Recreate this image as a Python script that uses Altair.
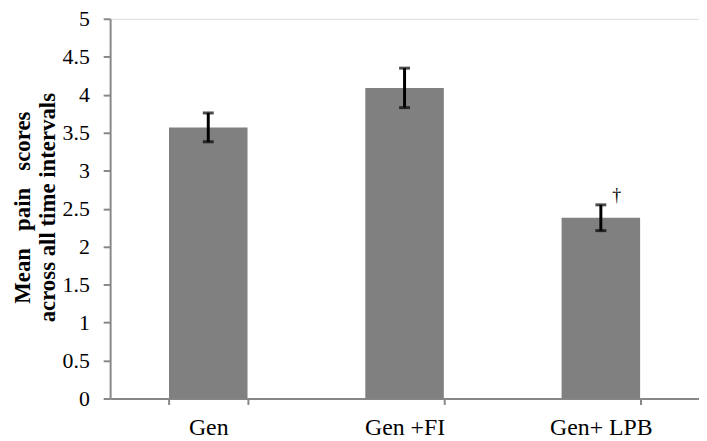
import altair as alt
import pandas as pd

categories = ["Gen", "Gen +FI", "Gen+ LPB"]
means = [3.57, 4.09, 2.38]
errors = [0.19, 0.26, 0.17]
markers = ["", "", "†"]
y_ticks = [0, 0.5, 1, 1.5, 2, 2.5, 3, 3.5, 4, 4.5, 5]
y_title = ["Mean\u00a0\u00a0\u00a0pain\u00a0\u00a0\u00a0scores", "across all time intervals"]

df = pd.DataFrame({
    "group": categories,
    "mean": means,
    "err": errors,
    "marker": markers,
})
df["lo"] = df["mean"] - df["err"]
df["hi"] = df["mean"] + df["err"]

FONT = "Liberation Serif"
AXIS_GREY = "#878787"
W, H = 594, 383

xscale = alt.Scale(paddingInner=0.6, paddingOuter=0.3)
yscale = alt.Scale(domain=[0, 5], nice=False)

xaxis = alt.Axis(
    labelAngle=0,
    labelFont=FONT,
    labelFontSize=24,
    labelColor="black",
    labelBaseline="alphabetic",
    labelPadding=30,
    tickBand="extent",
    tickSize=6,
    tickColor=AXIS_GREY,
    tickWidth=2,
    domainColor=AXIS_GREY,
    domainWidth=2,
)

yaxis = alt.Axis(
    values=y_ticks,
    format=".1~f",
    grid=False,
    labelOverlap=False,
    labelFont=FONT,
    labelFontSize=22,
    labelColor="black",
    labelPadding=14,
    tickSize=7,
    tickColor=AXIS_GREY,
    tickWidth=2,
    domainColor=AXIS_GREY,
    domainWidth=2,
    titleFont=FONT,
    titleFontSize=23,
    titleFontWeight="bold",
    titleColor="black",
    titleLineHeight=25,
    titleBaseline="alphabetic",
    titleAngle=270,
    titleX=-81,
    titleY=190,
)


def X():
    return alt.X("group:N", sort=categories, title=None, scale=xscale, axis=xaxis)


def Y(field):
    return alt.Y(field, scale=yscale, title=y_title, axis=yaxis)


base = alt.Chart(df)

bars = base.mark_bar(color="#808080").encode(x=X(), y=Y("mean:Q"))

rules = base.mark_rule(color="black", strokeWidth=3).encode(
    x=X(), y=Y("lo:Q"), y2="hi:Q"
)

caps_hi = base.mark_tick(color="black", thickness=3, size=11, orient="horizontal").encode(
    x=X(), y=Y("hi:Q")
)
caps_lo = base.mark_tick(color="black", thickness=3, size=11, orient="horizontal").encode(
    x=X(), y=Y("lo:Q")
)

dagger = base.mark_text(font=FONT, fontSize=18, color="black", dx=16, dy=0, baseline="bottom").encode(
    x=X(), y=Y("hi:Q"), text="marker:N"
)

chart = (
    alt.layer(bars, rules, caps_hi, caps_lo, dagger)
    .properties(
        width=W,
        height=H,
        autosize=alt.AutoSizeParams(type="none"),
        padding={"left": 103, "top": 9, "right": 0, "bottom": 41},
    )
    .configure_view(strokeWidth=0, stroke="transparent")
    .configure(background="white")
)

chart.save("out.html", embed_options={"renderer": "svg", "actions": False})
